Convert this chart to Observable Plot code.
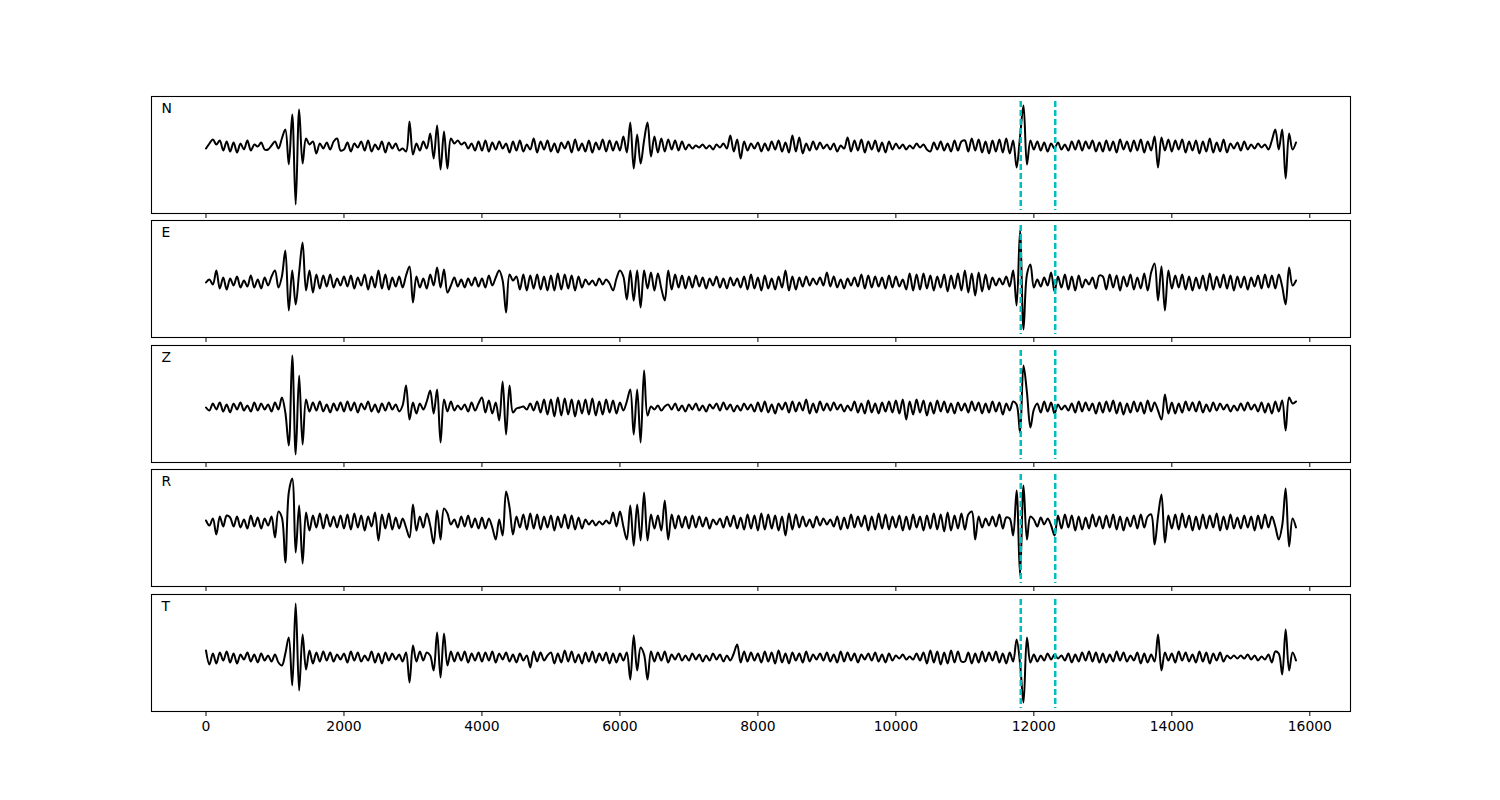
<!DOCTYPE html>
<html><head><meta charset="utf-8">
<script src="https://cdn.jsdelivr.net/npm/d3@7"></script>
<script src="https://cdn.jsdelivr.net/npm/@observablehq/plot@0.6"></script>
<style>
body{margin:0;background:#fff;}
#chart{position:relative;width:1500px;height:800px;font-family:"DejaVu Sans",sans-serif;}
#chart svg{position:absolute;left:0;}
</style></head><body><div id="chart"></div>
<script>
// sample spacing (x units per sample)
const sampleStep = 50;
const componentLabels = ["N", "E", "Z", "R", "T"];
const pickTimes = [11810, 12310];
const xTicks = [0, 2000, 4000, 6000, 8000, 10000, 12000, 14000, 16000];

// amplitudes, one value every 50 x-units (0 … 15800)
const traceN = [
-2,3,7,2,6,-4,5,-5,4,-6,3,-3,6,-4,2,0,4,-3,-3,1,
5,-2,8,17,-18,32,-58,37,-17,8,2,5,-7,3,-2,4,-3,5,8,-4,
-3,4,-5,3,-1,5,-4,6,-5,2,-3,5,-6,4,-2,3,-4,-2,-5,25,
-8,3,-4,5,-2,13,-12,21,-23,15,-22,8,3,6,2,4,-2,3,-4,5,
-4,6,-5,4,-3,5,-2,3,-6,5,-4,6,-5,2,-3,8,-6,5,-3,6,
-5,3,-6,4,-2,5,-6,7,-4,3,-5,6,-6,4,-3,7,-5,6,-4,5,
-4,10,-6,24,-22,12,-17,6,24,-10,10,-6,8,-5,7,-3,6,-4,5,-3,
2,-2,1,-1,2,-2,1,-3,2,-1,3,-2,11,-5,7,-12,5,-4,3,-2,
4,-5,3,-4,5,-3,6,-5,4,-6,11,-5,9,-7,3,-4,5,-3,4,-2,
2,-3,3,-5,1,-2,9,-5,6,-4,7,-6,5,-3,6,-5,4,-6,5,-3,
3,-2,2,-3,1,-2,3,-1,2,-3,-5,4,-3,5,-4,3,-5,6,-4,5,
6,-5,8,-4,7,-6,5,-7,6,-5,7,-6,8,-7,6,-21,10,41,-18,6,
-3,5,-4,4,-5,3,-2,4,-3,2,-4,5,-3,6,-4,5,-2,6,-5,4,
-5,6,-4,5,-6,7,-3,5,-5,6,-4,7,-6,5,-4,10,-21,9,-4,7,
-5,6,-3,7,-6,5,-4,6,-7,5,-5,8,-6,4,-5,7,-6,3,-2,4,
-4,5,-3,2,-2,3,-1,2,-3,6,17,-3,17,-32,13,-3,4
];
const traceE = [
0,3,-2,12,-6,5,-7,4,-3,6,-5,2,-4,7,-5,3,-6,5,-3,6,
12,-5,6,32,-28,12,-22,10,40,-8,12,-10,8,-6,7,-4,8,-5,4,-3,
6,-4,7,-6,5,-3,8,-7,6,-5,12,-6,8,-7,5,-4,6,-5,7,16,
-20,6,-5,4,-6,8,-3,15,-5,13,-10,-3,5,-4,3,-5,4,-3,5,-4,
4,-5,7,-3,5,12,2,-30,8,2,6,-7,8,-8,7,-6,8,-7,6,-8,
7,-8,9,-7,8,-6,7,-8,6,-5,3,-2,2,-3,4,-2,3,-1,-8,4,
12,6,-17,12,-18,12,-25,12,-6,10,-8,9,-6,-18,12,-7,8,-5,7,-6,
6,-5,7,-4,5,-6,4,-3,6,-5,4,-6,5,-3,4,-5,6,-7,8,-6,
5,-8,7,-6,4,-7,6,-5,12,-8,6,-7,5,-4,6,-3,4,-2,5,-3,
10,-4,6,-5,3,-6,4,-3,5,-4,8,-6,7,-5,6,-4,5,-6,7,-5,
6,-4,3,-7,9,-8,8,-7,9,-6,7,-8,6,-5,8,-9,7,-6,9,-8,
12,-10,9,-13,10,-9,8,-7,5,-3,4,-2,6,-4,12,-23,52,-47,8,18,
-5,3,-4,5,-3,10,-9,6,-5,8,-7,6,-8,7,-5,3,-2,5,-6,7,
6,-7,8,-5,7,-8,6,-4,8,-7,5,-6,9,-8,10,19,-18,16,-28,12,
-6,7,-5,8,-7,6,-8,5,-6,7,-8,9,-7,6,-5,8,-6,7,-8,6,
-5,6,-7,5,-4,7,-6,8,-5,7,-6,8,-4,-22,15,-3,2
];
const traceZ = [
0,-3,4,-2,5,-4,3,-5,4,-2,5,-3,2,-4,5,-3,4,-2,3,-4,
5,-2,10,-5,-38,52,-47,32,-37,8,-4,5,-3,6,-4,3,-5,4,-3,5,
-4,6,-3,5,-5,4,-2,6,-4,3,-5,4,-3,5,-2,3,-4,2,22,-12,
5,-6,4,-2,6,17,-6,18,-35,8,-4,6,-3,2,-2,3,-4,5,-3,4,
10,-5,7,-6,5,-13,26,-27,22,-5,-1,0,1,-2,4,-3,6,-5,8,-7,
8,-9,10,-8,9,-7,8,-9,7,-6,8,-7,9,-8,6,-7,8,-5,7,-6,
5,-3,6,18,-27,18,-35,37,-8,1,-2,2,-3,1,3,-2,4,-3,2,-4,
3,-2,4,-3,2,-4,3,-1,4,-3,5,-2,3,-4,2,-3,4,-2,3,-4,
5,-4,6,-5,3,-6,4,-2,5,-5,6,-4,5,-3,8,-6,4,-5,6,-3,
4,-3,5,-2,3,-4,2,-3,6,-5,4,-6,7,-5,4,-6,5,-4,6,-5,
7,-6,8,-12,6,-7,8,-5,7,-8,5,-6,7,-4,6,-5,4,-6,5,-3,
4,-5,6,-3,5,-6,4,-5,6,-4,5,-7,4,-3,6,3,-25,42,15,-20,
-2,4,-5,6,-4,5,-6,3,-2,2,-3,4,-5,6,-4,5,-3,4,-6,5,
-5,6,-4,7,-6,5,-7,4,-5,6,-4,5,-6,7,-4,5,-3,-12,13,-6,
5,-6,4,-5,6,-3,5,-4,6,-5,3,-4,5,-3,4,-2,3,-4,2,-3,
4,-3,5,-2,3,-4,5,-5,4,-6,6,-4,7,-23,10,4,6
];
const traceR = [
2,-3,4,-12,6,-4,7,5,-4,6,-5,3,-6,7,-4,5,-6,4,-3,6,
-15,11,5,-40,30,44,-30,17,-41,10,-8,7,-5,9,-6,8,-4,6,-5,7,
-6,8,-7,9,-5,7,-8,6,-4,10,-18,8,-6,9,-7,5,-6,4,-5,-15,
18,-8,6,-5,9,-3,-21,12,-17,14,9,-2,3,-5,6,-4,7,-5,4,-6,
5,-6,4,-5,-17,3,-13,31,15,-12,6,-5,8,-7,9,-6,8,-7,6,-5,
7,-8,6,-5,8,-6,7,-7,5,-6,3,-2,2,-3,1,-2,2,-1,10,-4,
11,-4,-17,17,-23,18,-18,30,-18,8,-6,7,-8,22,-17,8,-6,7,-5,6,
-6,7,-5,6,-4,5,-6,3,-2,4,-5,6,-4,7,-6,5,-7,8,-6,7,
-8,9,-7,8,-6,7,-8,6,-13,9,-7,8,-5,6,-4,3,-5,6,-3,4,
-2,3,-4,6,-7,5,-6,8,-5,6,-4,7,-8,6,-7,9,-6,8,-7,6,
-5,7,-8,6,-7,8,-5,6,-8,7,-6,9,-7,8,-9,10,-8,7,-6,9,
-7,8,11,-17,6,-5,4,-3,6,-4,8,-6,5,4,-13,32,-53,37,-17,6,
3,-4,5,-2,4,-3,-13,7,-6,8,-5,7,-8,6,-7,5,-6,8,-4,6,
-6,7,-5,8,-7,6,-8,5,-4,7,-6,8,-5,6,8,-22,6,28,-20,7,
-6,8,-7,9,-5,7,-8,6,-7,8,-6,7,-5,9,-8,6,-7,8,-6,5,
-6,7,-5,6,-8,7,-6,8,-5,6,-4,-17,-3,34,-24,4,-5
];
const traceT = [
7,-7,4,-6,5,-3,6,-5,4,-6,3,-2,5,-4,3,-5,4,-3,2,-4,
3,-5,-8,4,20,-28,54,-33,23,-12,7,-6,5,-4,6,-3,5,-4,3,-2,
4,-5,6,-3,5,-4,2,-3,6,-5,4,-6,5,-3,4,-2,3,-4,5,-25,
12,-4,6,-3,5,2,-13,25,-20,24,-8,6,-4,5,-3,6,-5,4,-3,5,
-4,5,-3,6,-5,4,-2,5,-4,3,-5,4,-3,2,-10,6,-4,5,-3,2,
5,-6,4,-5,7,-4,6,-5,3,-6,5,-4,6,-5,4,-3,5,-6,4,-5,
4,-3,5,-22,22,-13,10,3,-22,6,-4,5,-3,6,-5,3,-2,4,-3,2,
-3,4,-2,3,-4,2,-3,4,-2,3,-4,2,-3,4,13,-5,6,-4,5,-3,
4,-5,6,-4,5,-6,7,-5,4,-6,5,-3,4,-5,6,-4,3,-2,4,-3,
5,-4,3,-5,6,-4,5,-3,4,-5,3,-2,4,-3,5,-4,3,-5,4,-3,
2,-1,3,-2,1,-2,4,-3,5,-6,7,-5,6,-7,5,-6,7,-5,6,-4,
-4,5,-6,4,-5,6,-4,5,-3,6,-5,4,-6,5,-4,18,-6,-45,20,-5,
3,-4,2,-3,4,-2,3,-1,2,-3,4,-5,3,-4,5,-3,6,-4,5,-5,
4,-5,3,-4,6,-3,5,-4,2,-3,5,-6,4,-5,3,-4,23,-13,5,-3,
4,-5,6,-3,5,-4,3,-5,6,-4,5,-6,4,-3,5,-4,2,-1,2,-1,
2,-1,3,-2,2,-3,1,-2,3,-5,6,4,-17,28,-13,5,-3
];

const traces = [traceN, traceE, traceZ, traceR, traceT];

// layout (pixels) and per-panel y scale domains
const panelTops = [96, 220, 345, 469, 594];
const panelHeight = 117;
const yDomains = [[-67, 50], [-55, 62], [-55, 62], [-64, 53], [-54, 63]];
const xDomain = [-790, 16590];

const chart = document.getElementById("chart");
traces.forEach((values, k) => {
  const data = values.map((v, i) => ({t: i * sampleStep, a: v}));
  const isLast = k === traces.length - 1;
  const mt = 4, mb = isLast ? 44 : 4;
  const svg = Plot.plot({
    width: 1500,
    height: panelHeight + mt + mb,
    marginLeft: 151, marginRight: 150, marginTop: mt, marginBottom: mb,
    x: {domain: xDomain, label: null},
    y: {domain: yDomains[k], axis: null, label: null},
    style: {fontFamily: "DejaVu Sans", fontSize: "13.9px", color: "black", background: "transparent", overflow: "visible"},
    marks: [
      Plot.line(data, {x: "t", y: "a", stroke: "black", strokeWidth: 2, curve: "catmull-rom"}),
      Plot.ruleX(pickTimes, {stroke: "#00bfbf", strokeWidth: 2.5, strokeDasharray: "6,3", insetTop: 5, insetBottom: 3}),
      Plot.frame({stroke: "black", strokeWidth: 1.1}),
      Plot.text([componentLabels[k]], {frameAnchor: "top-left", dx: 10, dy: 7, lineAnchor: "top", textAnchor: "start", fontSize: 13.9, fill: "black"}),
      Plot.axisX({ticks: xTicks, tickSize: 5, tickPadding: 5, label: null, tickFormat: isLast ? d3.format("d") : () => "", fontSize: 13.9})
    ]
  });
  svg.style.top = (panelTops[k] - mt) + "px";
  chart.appendChild(svg);
});
</script></body></html>
